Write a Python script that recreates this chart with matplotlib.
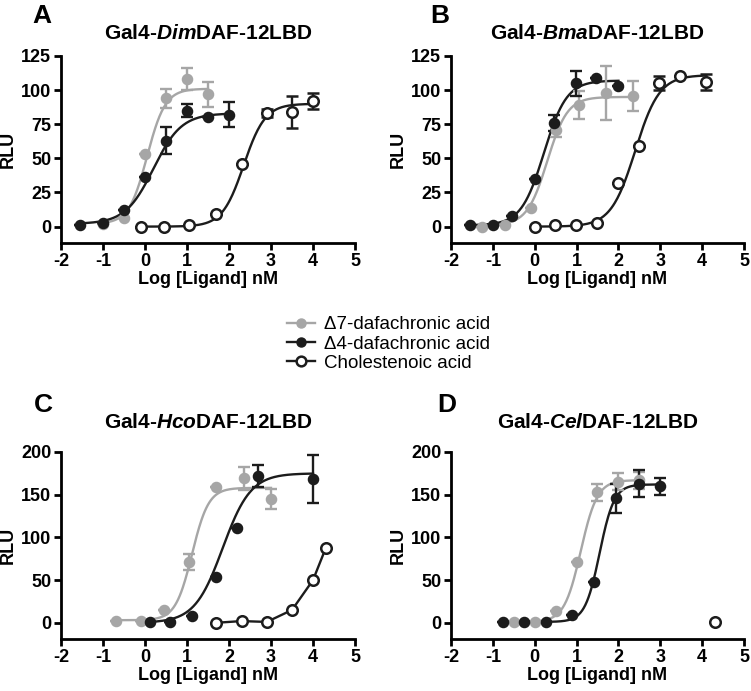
import numpy as np
import matplotlib
matplotlib.use("Agg")
import matplotlib.pyplot as plt
from matplotlib.lines import Line2D

plt.rcParams['font.family'] = ['Liberation Sans', 'DejaVu Sans']
plt.rcParams['axes.unicode_minus'] = False
plt.rcParams['mathtext.fontset'] = 'custom'
plt.rcParams['mathtext.it'] = 'Liberation Sans:bold:italic'
plt.rcParams['mathtext.rm'] = 'Liberation Sans:bold'

GRAY = '#a6a6a6'
BLACK = '#1c1c1c'

# ---- panel A: Dim ----
a_d7_x = [-1.0, -0.5, 0.0, 0.5, 1.0, 1.5]
a_d7_y = [2, 6, 53, 94, 108, 97]
a_d7_e = [0, 0, 0, 7, 8, 9]
a_d4_x = [-1.55, -1.0, -0.5, 0.0, 0.5, 1.0, 1.5, 2.0]
a_d4_y = [1, 3, 12, 36, 63, 85, 80, 82]
a_d4_e = [0, 0, 0, 0, 10, 5, 0, 9]
a_ch_x = [-0.1, 0.45, 1.05, 1.7, 2.3, 2.9, 3.5, 4.0]
a_ch_y = [0, 0, 1, 9, 46, 83, 84, 92]
a_ch_e = [0, 0, 0, 0, 0, 3, 12, 6]

# ---- panel B: Bma ----
b_d7_x = [-1.25, -0.7, -0.1, 0.5, 1.05, 1.7, 2.35]
b_d7_y = [0, 1, 14, 71, 89, 98, 96]
b_d7_e = [0, 0, 0, 5, 10, 20, 11]
b_d4_x = [-1.55, -1.0, -0.55, 0.0, 0.45, 0.98, 1.47, 2.0]
b_d4_y = [1, 1, 8, 35, 76, 105, 109, 103]
b_d4_e = [0, 0, 0, 0, 6, 9, 0, 0]
b_ch_x = [0.0, 0.48, 0.98, 1.48, 1.98, 2.5, 2.98, 3.48, 4.1]
b_ch_y = [0, 1, 1, 3, 32, 59, 105, 110, 106]
b_ch_e = [0, 0, 0, 0, 0, 0, 5, 0, 6]

# ---- panel C: Hco ----
c_d7_x = [-0.7, -0.1, 0.45, 1.05, 1.7, 2.35, 3.0]
c_d7_y = [2, 2, 15, 71, 159, 169, 145]
c_d7_e = [0, 0, 0, 9, 0, 14, 12]
c_d4_x = [0.12, 0.6, 1.12, 1.7, 2.18, 2.7, 4.0]
c_d4_y = [1, 1, 8, 54, 111, 172, 168]
c_d4_e = [0, 0, 0, 0, 0, 13, 28]
c_ch_x = [1.7, 2.3, 2.9, 3.5, 4.0, 4.3]
c_ch_y = [0, 2, 1, 15, 50, 87]

# ---- panel D: Cel ----
d_d7_x = [-0.5, 0.0, 0.5, 1.0, 1.48, 2.0, 2.48]
d_d7_y = [1, 1, 14, 71, 153, 165, 167]
d_d7_e = [0, 0, 0, 0, 10, 10, 10]
d_d4_x = [-0.75, -0.25, 0.28, 0.9, 1.42, 1.95, 2.48, 3.0]
d_d4_y = [1, 1, 1, 9, 48, 146, 163, 160]
d_d4_e = [0, 0, 0, 0, 0, 17, 16, 10]
d_ch_x = [4.3]
d_ch_y = [1]

# fitted dose-response parameters: bottom, top, logEC50, hill, x-range
fits = {
    'A': [(2, 101, 0.05, 2.0, -1.0, 1.5, GRAY),
          (2, 83, 0.2, 1.3, -1.55, 2.0, BLACK),
          (0, 90, 2.35, 1.7, -0.1, 4.0, BLACK)],
    'B': [(1, 95, 0.3, 1.8, -1.25, 2.35, GRAY),
          (1, 107, 0.22, 1.6, -1.55, 2.0, BLACK),
          (0, 111, 2.4, 1.5, 0.0, 4.1, BLACK)],
    'C': [(3, 158, 1.12, 2.2, -0.7, 3.0, GRAY),
          (0, 175, 1.85, 1.3, 0.12, 4.0, BLACK)],
    'D': [(1, 167, 1.1, 2.2, -0.5, 2.48, GRAY),
          (1, 162, 1.55, 2.5, -0.75, 3.0, BLACK)],
}

panels = {
    'A': dict(sp='Dim', d7=(a_d7_x, a_d7_y, a_d7_e), d4=(a_d4_x, a_d4_y, a_d4_e),
              ch=(a_ch_x, a_ch_y, a_ch_e), ylim=(-12, 125), yt=[0, 25, 50, 75, 100, 125],
              pos=[61, 56, 355, 243], letter=(42, 16), tpad=12),
    'B': dict(sp='Bma', d7=(b_d7_x, b_d7_y, b_d7_e), d4=(b_d4_x, b_d4_y, b_d4_e),
              ch=(b_ch_x, b_ch_y, b_ch_e), ylim=(-12, 125), yt=[0, 25, 50, 75, 100, 125],
              pos=[451, 56, 744, 243], letter=(440, 16), tpad=12),
    'C': dict(sp='Hco', d7=(c_d7_x, c_d7_y, c_d7_e), d4=(c_d4_x, c_d4_y, c_d4_e),
              ch=(c_ch_x, c_ch_y, None), ylim=(-19, 200), yt=[0, 50, 100, 150, 200],
              pos=[61, 452, 355, 639], letter=(43, 405), tpad=17),
    'D': dict(sp='Cel', d7=(d_d7_x, d_d7_y, d_d7_e), d4=(d_d4_x, d_d4_y, d_d4_e),
              ch=(d_ch_x, d_ch_y, None), ylim=(-19, 200), yt=[0, 50, 100, 150, 200],
              pos=[451, 452, 744, 639], letter=(447, 405), tpad=17),
}

W, H = 751, 691
fig = plt.figure(figsize=(W / 100, H / 100), dpi=100)
LW = 1.7


def logistic(x, b, t, ec, h):
    return b + (t - b) / (1 + 10 ** ((ec - x) * h))


for key, p in panels.items():
    l, t, r, btm = p['pos']
    ax = fig.add_axes([l / W, 1 - btm / H, (r - l) / W, (btm - t) / H])

    for (b, tp, ec, h, x0, x1, col) in fits[key]:
        xs = np.linspace(x0, x1, 200)
        ax.plot(xs, logistic(xs, b, tp, ec, h), color=col, lw=LW, zorder=2)

    for name, col in (('d7', GRAY), ('d4', BLACK)):
        x, y, e = p[name]
        ax.errorbar(x, y, yerr=e, fmt='o', color=col, ms=7.3, elinewidth=LW,
                    capsize=4.5, capthick=LW, zorder=3)
    x, y, e = p['ch']
    if e is None:
        ax.plot(x, y, color=BLACK, lw=LW, zorder=2)
        ax.plot(x, y, 'o', mfc='white', mec=BLACK, mew=1.8, ms=7.6, zorder=4)
    else:
        ax.errorbar(x, y, yerr=e, fmt='o', color=BLACK, mfc='white', mec=BLACK,
                    mew=1.8, ms=7.6, elinewidth=LW, capsize=4.5, capthick=LW, zorder=4)

    ax.set_xlim(-2, 5)
    ax.set_ylim(*p['ylim'])
    ax.set_xticks(range(-2, 6))
    ax.set_yticks(p['yt'])
    for s in ('top', 'right'):
        ax.spines[s].set_visible(False)
    for s in ('left', 'bottom'):
        ax.spines[s].set_linewidth(2)
    ax.tick_params(width=2, length=5, labelsize=13, pad=2)
    for lab in ax.get_xticklabels() + ax.get_yticklabels():
        lab.set_fontweight('bold')
    ax.set_xlabel('Log [Ligand] nM', fontsize=13, fontweight='bold', labelpad=1)
    ax.set_ylabel('RLU', fontsize=13, fontweight='bold')
    ax.yaxis.set_label_coords(-0.152, 0.5)
    ax.set_title('Gal4-$\\mathit{%s}$DAF-12LBD' % p['sp'], fontsize=15,
                 fontweight='bold', pad=p['tpad'])
    lx, ly = p['letter']
    fig.text(lx / W, 1 - ly / H, key, fontsize=19, fontweight='bold',
             ha='center', va='center')

handles = [
    Line2D([], [], color=GRAY, marker='o', ms=6.5, lw=LW),
    Line2D([], [], color=BLACK, marker='o', ms=6.5, lw=LW),
    Line2D([], [], color=BLACK, marker='o', mfc='white', mew=1.8, ms=7, lw=LW),
]
labels = ['Δ7-dafachronic acid', 'Δ4-dafachronic acid', 'Cholestenoic acid']
fig.legend(handles, labels, loc='center left', bbox_to_anchor=(287 / W, 1 - 344 / H),
           frameon=False, fontsize=13.5, handlelength=1.5, handletextpad=0.5,
           labelspacing=0.12, borderpad=0, borderaxespad=0)

fig.savefig('out.png', dpi=100)
